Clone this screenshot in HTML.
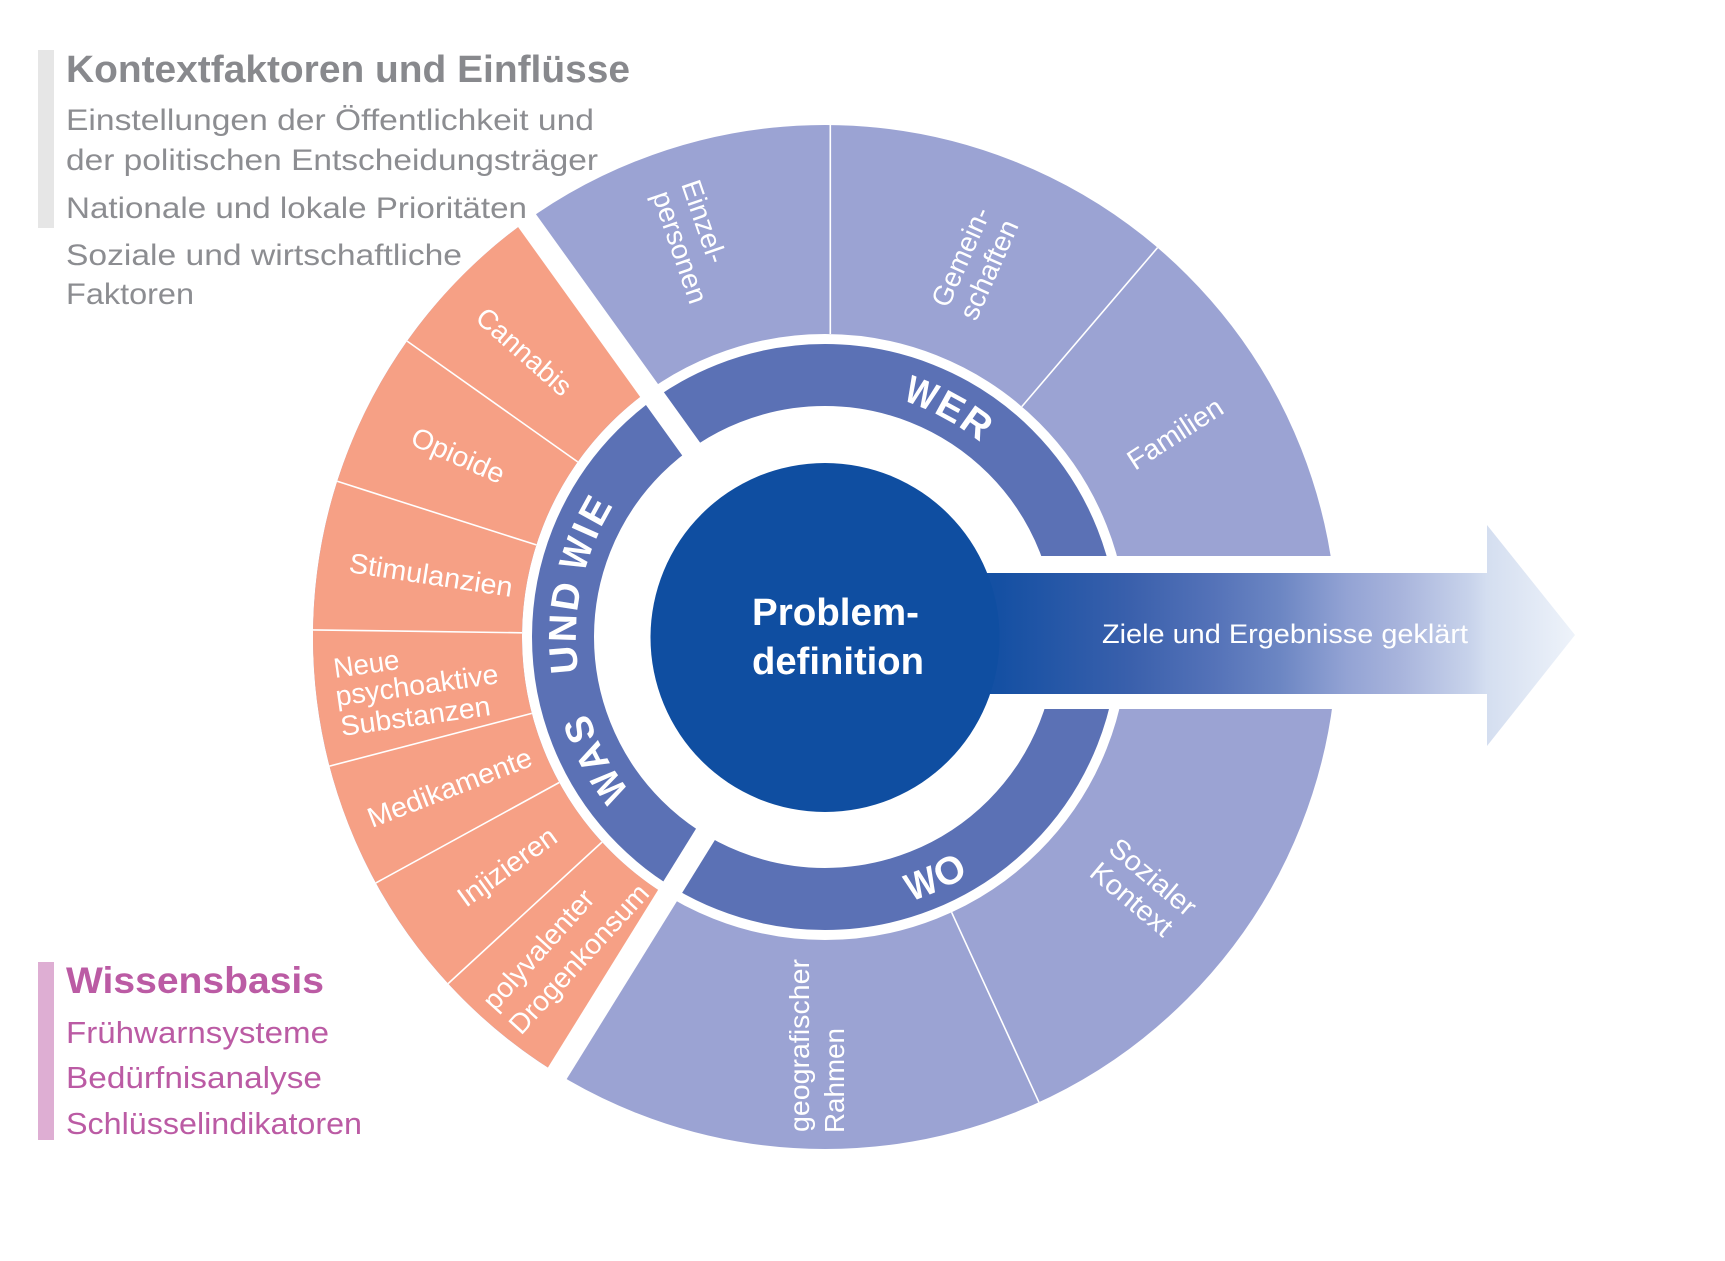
<!DOCTYPE html>
<html>
<head>
<meta charset="utf-8">
<style>
html,body{margin:0;padding:0;background:#fff;}
svg{display:block;}
</style>
</head>
<body>
<svg width="1725" height="1261" viewBox="0 0 1725 1261" xmlns="http://www.w3.org/2000/svg" font-family="'Liberation Sans', Arial, sans-serif">
<defs>
<linearGradient id="g" gradientUnits="userSpaceOnUse" x1="980" y1="0" x2="1575" y2="0">
<stop offset="0" stop-color="#1350a3"/>
<stop offset="0.034" stop-color="#1550a3"/>
<stop offset="0.252" stop-color="#3a60ac"/>
<stop offset="0.392" stop-color="#5472b8"/>
<stop offset="0.504" stop-color="#6c86c3"/>
<stop offset="0.617" stop-color="#93a3d4"/>
<stop offset="0.706" stop-color="#a8b4dc"/>
<stop offset="0.824" stop-color="#c8d3eb"/>
<stop offset="0.852" stop-color="#d4def0"/>
<stop offset="1" stop-color="#eef3fa"/>
</linearGradient>
</defs>
<rect width="1725" height="1261" fill="#fff"/>

<!-- Outer ring: purple annulus -->
<circle cx="825" cy="637" r="407.5" fill="none" stroke="#9ba3d3" stroke-width="209"/>
<!-- Orange sector -->
<path d="M 555.2 1072.1 A 512 512 0 0 1 526.2 221.2 L 648.2 390.9 A 303 303 0 0 0 665.3 894.5 Z" fill="#f6a085"/>

<!-- Dividers -->
<g stroke="#ffffff" stroke-width="1.6">
<line x1="830.3" y1="124" x2="830.3" y2="334"/>
<line x1="1021.8" y1="406.6" x2="1157.5" y2="247.7"/>
<line x1="577.7" y1="461.9" x2="407.1" y2="341.1"/>
<line x1="536.3" y1="544.9" x2="337.2" y2="481.3"/>
<line x1="522.0" y1="632.8" x2="313.0" y2="629.9"/>
<line x1="531.8" y1="713.4" x2="329.5" y2="766.1"/>
<line x1="559.2" y1="782.5" x2="375.9" y2="882.9"/>
<line x1="602.0" y1="842.1" x2="448.1" y2="983.6"/>
<line x1="951.6" y1="912.3" x2="1038.9" y2="1102.2"/>
</g>

<!-- Inner ring -->
<circle cx="825" cy="637" r="262" fill="none" stroke="#5b71b5" stroke-width="62"/>

<!-- White gaps -->
<g transform="translate(825 637) rotate(-125.7)"><rect x="0" y="-10" width="530" height="22" fill="#fff"/></g>
<g transform="translate(825 637) rotate(121.8)"><rect x="0" y="-13.4" width="530" height="22" fill="#fff"/></g>
<rect x="830" y="556" width="560" height="153" fill="#fff"/>

<!-- Arrow -->
<rect x="900" y="573" width="588" height="121" fill="url(#g)"/>
<polygon points="1487,525 1575,635 1487,746" fill="url(#g)"/>

<!-- Center circle -->
<circle cx="825" cy="637.5" r="174.5" fill="#0f4ea1"/>
<text x="752" y="625" font-size="38" font-weight="bold" fill="#fff" textLength="167" lengthAdjust="spacingAndGlyphs">Problem-</text>
<text x="752" y="674" font-size="38" font-weight="bold" fill="#fff" textLength="172" lengthAdjust="spacingAndGlyphs">definition</text>

<text x="1102" y="643" font-size="27" fill="#fff" textLength="366" lengthAdjust="spacingAndGlyphs">Ziele und Ergebnisse geklärt</text>

<!-- Ring labels -->
<g font-size="39" font-weight="bold" fill="#fff" text-anchor="middle">
<text transform="translate(916.7 405.5) rotate(21.6) scale(0.85 1)">W</text>
<text transform="translate(944.4 418.5) rotate(28.65)">E</text>
<text transform="translate(969.0 433.9) rotate(35.34)">R</text>

<text transform="translate(925.9 896.0) rotate(-21.28) scale(0.85 1)">W</text>
<text transform="translate(955.6 882.4) rotate(-28.03)">O</text>

<text transform="translate(576.9 658.7) rotate(265)">U</text>
<text transform="translate(576.1 628.5) rotate(271.95)">N</text>
<text transform="translate(579.0 598.5) rotate(278.9)">D</text>
<text transform="translate(588.9 558.0) rotate(288.5) scale(0.85 1)">W</text>
<text transform="translate(597.4 536.1) rotate(293.9)">I</text>
<text transform="translate(606.8 517.0) rotate(298.8)">E</text>

<text transform="translate(620.3 778.7) rotate(235.3) scale(0.85 1)">W</text>
<text transform="translate(603.9 751.6) rotate(242.6)">A</text>
<text transform="translate(592.1 725.0) rotate(249.3)">S</text>
</g>

<!-- Segment labels -->
<g font-size="28" fill="#fff">
<text transform="translate(681 184) rotate(71)" textLength="86" lengthAdjust="spacingAndGlyphs">Einzel-</text>
<text transform="translate(652 195) rotate(71)" textLength="117" lengthAdjust="spacingAndGlyphs">personen</text>
<text transform="translate(948 309) rotate(-66)" textLength="106" lengthAdjust="spacingAndGlyphs">Gemein-</text>
<text transform="translate(976 322) rotate(-66)" textLength="106" lengthAdjust="spacingAndGlyphs">schaften</text>
<text transform="translate(1135 471) rotate(-33)" textLength="108" lengthAdjust="spacingAndGlyphs">Familien</text>

<text transform="translate(474 320) rotate(41.5)" textLength="117" lengthAdjust="spacingAndGlyphs">Cannabis</text>
<text transform="translate(409 444) rotate(24)" textLength="99" lengthAdjust="spacingAndGlyphs">Opioide</text>
<text transform="translate(348 572) rotate(8.7)" textLength="165" lengthAdjust="spacingAndGlyphs">Stimulanzien</text>
<text transform="translate(335 678) rotate(-8)" textLength="66" lengthAdjust="spacingAndGlyphs">Neue</text>
<text transform="translate(337 706) rotate(-8)" textLength="164" lengthAdjust="spacingAndGlyphs">psychoaktive</text>
<text transform="translate(342 736) rotate(-8)" textLength="151" lengthAdjust="spacingAndGlyphs">Substanzen</text>
<text transform="translate(372 828) rotate(-21.2)" textLength="174" lengthAdjust="spacingAndGlyphs">Medikamente</text>
<text transform="translate(466 908) rotate(-35.8)" textLength="115" lengthAdjust="spacingAndGlyphs">Injizieren</text>
<text transform="translate(495 1012) rotate(-48)" textLength="151" lengthAdjust="spacingAndGlyphs">polyvalenter</text>
<text transform="translate(521 1036) rotate(-47.5)" textLength="192" lengthAdjust="spacingAndGlyphs">Drogenkonsum</text>

<text transform="translate(809 1132) rotate(-90)" textLength="173" lengthAdjust="spacingAndGlyphs">geografischer</text>
<text transform="translate(844 1133) rotate(-90)" textLength="105" lengthAdjust="spacingAndGlyphs">Rahmen</text>
<text transform="translate(1107 851) rotate(40)" textLength="104" lengthAdjust="spacingAndGlyphs">Sozialer</text>
<text transform="translate(1088 875) rotate(40)" textLength="98" lengthAdjust="spacingAndGlyphs">Kontext</text>
</g>

<!-- Left text: Kontextfaktoren -->
<rect x="38" y="50" width="16" height="178" fill="#e6e6e6"/>
<text x="66" y="82" font-size="38" font-weight="bold" fill="#88898d" textLength="564" lengthAdjust="spacingAndGlyphs">Kontextfaktoren und Einflüsse</text>
<g font-size="30" fill="#8c8d91">
<text x="66" y="130" textLength="528" lengthAdjust="spacingAndGlyphs">Einstellungen der Öffentlichkeit und</text>
<text x="66" y="170" textLength="532" lengthAdjust="spacingAndGlyphs">der politischen Entscheidungsträger</text>
<text x="66" y="218" textLength="461" lengthAdjust="spacingAndGlyphs">Nationale und lokale Prioritäten</text>
<text x="66" y="265" textLength="396" lengthAdjust="spacingAndGlyphs">Soziale und wirtschaftliche</text>
<text x="66" y="304" textLength="128" lengthAdjust="spacingAndGlyphs">Faktoren</text>
</g>

<!-- Left text: Wissensbasis -->
<rect x="38" y="962" width="16" height="178" fill="#deaed3"/>
<text x="66" y="993" font-size="37" font-weight="bold" fill="#bb5ba4" textLength="258" lengthAdjust="spacingAndGlyphs">Wissensbasis</text>
<g font-size="31" fill="#bb5ba4">
<text x="66" y="1043" textLength="263" lengthAdjust="spacingAndGlyphs">Frühwarnsysteme</text>
<text x="66" y="1088" textLength="256" lengthAdjust="spacingAndGlyphs">Bedürfnisanalyse</text>
<text x="66" y="1134" textLength="296" lengthAdjust="spacingAndGlyphs">Schlüsselindikatoren</text>
</g>
</svg>
</body>
</html>
